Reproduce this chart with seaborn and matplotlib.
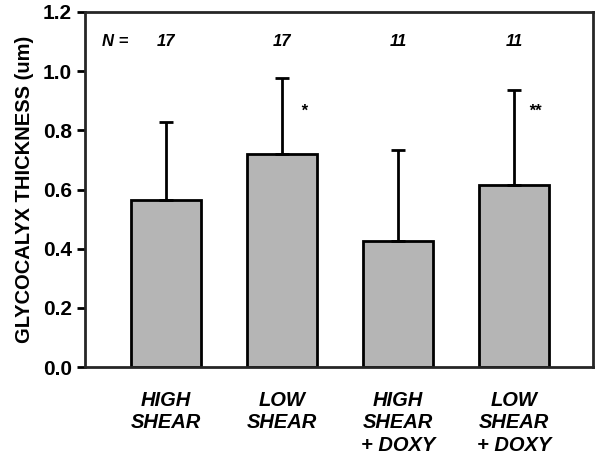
import matplotlib
matplotlib.use("Agg")
import matplotlib.pyplot as plt
import seaborn as sns
import pandas as pd

# data
groups = ["HIGH\nSHEAR", "LOW\nSHEAR", "HIGH\nSHEAR\n+ DOXY", "LOW\nSHEAR\n+ DOXY"]
thickness = [0.566, 0.719, 0.425, 0.614]
sd_upper = [0.262, 0.257, 0.307, 0.322]
n_values = ["17", "17", "11", "11"]
stars = ["", "*", "", "**"]

df = pd.DataFrame({"group": groups, "thickness": thickness})

sns.set_style("ticks")
plt.rcParams["font.family"] = ["Liberation Sans", "DejaVu Sans"]
plt.rcParams["font.weight"] = "bold"
plt.rcParams["text.color"] = "black"
plt.rcParams["axes.labelcolor"] = "black"
plt.rcParams["xtick.color"] = "black"
plt.rcParams["ytick.color"] = "black"

fig = plt.figure(figsize=(6.01, 4.70), dpi=100)
ax = fig.add_axes([0.1414, 0.219, 0.8453, 0.7555])

sns.barplot(data=df, x="group", y="thickness", color="#b5b5b5", width=0.6,
            edgecolor="black", linewidth=2, saturation=1, ax=ax)
# only the upper half of each error bar is drawn
ax.errorbar(range(len(groups)), thickness, yerr=[[0] * len(groups), sd_upper],
            fmt="none", ecolor="black", elinewidth=2, capsize=5, capthick=2)

# N row and significance marks
ax.text(-0.44, 1.10, "N =", ha="center", va="center", fontsize=12,
        fontstyle="italic", fontweight="bold")
for i, n in enumerate(n_values):
    ax.text(i, 1.10, n, ha="center", va="center", fontsize=12,
            fontstyle="italic", fontweight="bold")
for i, s in enumerate(stars):
    if s:
        ax.text(i + 0.18, 0.865, s, ha="center", va="center", fontsize=12,
                fontstyle="italic", fontweight="bold")

ax.set_xlim(-0.7, 3.68)
ax.set_ylim(0, 1.2)
ax.set_yticks([0, 0.2, 0.4, 0.6, 0.8, 1.0, 1.2])
ax.set_yticklabels(["0.0", "0.2", "0.4", "0.6", "0.8", "1.0", "1.2"],
                   fontsize=15, fontweight="bold")
ax.set_xlabel("")
ax.set_ylabel("GLYCOCALYX THICKNESS (um)", fontsize=14.5, fontweight="bold",
              labelpad=6)
ax.tick_params(axis="x", length=0, pad=17)
ax.tick_params(axis="y", length=6, width=2)
for lbl in ax.get_xticklabels():
    lbl.set_fontsize(14.5)
    lbl.set_fontstyle("italic")
    lbl.set_fontweight("bold")
    lbl.set_verticalalignment("top")
    lbl.set_linespacing(1.25)
for sp in ax.spines.values():
    sp.set_linewidth(2)
    sp.set_visible(True)

fig.savefig("out.png", dpi=100)
